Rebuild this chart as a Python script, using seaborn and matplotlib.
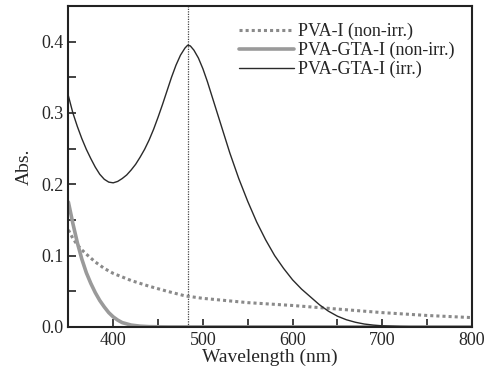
import numpy as np
import pandas as pd
import matplotlib
matplotlib.use("Agg")
import matplotlib.pyplot as plt
from matplotlib.ticker import MultipleLocator
import seaborn as sns

sns.set_style("ticks")
plt.rcParams['font.family'] = ['Liberation Serif', 'DejaVu Serif']

# PVA-I (non-irr.)
wl_pva = [350, 355, 360, 365, 370, 380, 390, 400, 420, 440, 460, 480, 500, 550, 600, 650,
          700, 750, 800]
abs_pva = [0.136, 0.124, 0.115, 0.108, 0.102, 0.091, 0.082, 0.075, 0.065, 0.057, 0.050,
           0.0435, 0.040, 0.034, 0.030, 0.025, 0.020, 0.016, 0.013]

# PVA-GTA-I (non-irr.)
wl_gta = [350, 355, 360, 365, 370, 375, 380, 385, 390, 395, 400, 405, 410, 420, 430, 440,
          460, 800]
abs_gta = [0.175, 0.145, 0.118, 0.095, 0.076, 0.061, 0.048, 0.037, 0.028, 0.020, 0.014,
           0.0095, 0.006, 0.0025, 0.001, 0.0003, 0.0, 0.0]

# PVA-GTA-I (irr.)
wl_irr = [350, 355, 360, 365, 370, 375, 380, 385, 390, 395, 400, 405, 410, 415, 420, 425,
          430, 435, 440, 445, 450, 455, 460, 465, 470, 475, 480, 483, 486, 490, 495, 500,
          505, 510, 520, 530, 540, 550, 560, 570, 580, 590, 600, 610, 620, 630, 640, 650,
          660, 670, 680, 690, 700, 720, 740, 800]
abs_irr = [0.324, 0.300, 0.281, 0.264, 0.249, 0.236, 0.224, 0.214, 0.207, 0.203, 0.202,
           0.204, 0.208, 0.213, 0.220, 0.228, 0.238, 0.249, 0.262, 0.277, 0.294, 0.312,
           0.331, 0.350, 0.367, 0.381, 0.391, 0.395, 0.394, 0.388, 0.377, 0.362, 0.344,
           0.324, 0.284, 0.244, 0.208, 0.176, 0.147, 0.122, 0.100, 0.082, 0.066, 0.053,
           0.042, 0.031, 0.022, 0.015, 0.010, 0.0065, 0.004, 0.0025, 0.0015, 0.0005, 0.0,
           0.0]

peak_nm = 483

fig = plt.figure(figsize=(4.85, 3.74), dpi=100)
ax = fig.add_axes([0.141, 0.126, 0.832, 0.858])

ax.axvline(peak_nm, color='#444444', lw=0.9, ls=(0, (1, 1)), zorder=1)
sns.lineplot(x=wl_pva, y=abs_pva, ax=ax, color='#8a8a8a', lw=2.2, ls=(0, (1, 1)),
             label='PVA-I (non-irr.)', sort=False)
sns.lineplot(x=wl_gta, y=abs_gta, ax=ax, color='#9a9a9a', lw=2.6,
             label='PVA-GTA-I (non-irr.)', sort=False)
sns.lineplot(x=wl_irr, y=abs_irr, ax=ax, color='#2a2a2a', lw=1.0,
             label='PVA-GTA-I (irr.)', sort=False)

ax.set_xlim(350, 800)
ax.set_ylim(0, 0.45)
ax.xaxis.set_major_locator(MultipleLocator(100))
ax.xaxis.set_minor_locator(MultipleLocator(50))
ax.yaxis.set_major_locator(MultipleLocator(0.1))
ax.yaxis.set_minor_locator(MultipleLocator(0.05))
ax.yaxis.set_major_formatter(plt.FuncFormatter(lambda v, p: '%.1f' % v))
ax.tick_params(which='both', direction='in', labelsize=13, width=1.2, color='#222222')
ax.tick_params(which='major', length=6)
ax.tick_params(which='minor', length=6)
for s in ax.spines.values():
    s.set_linewidth(1.5)
    s.set_color('#222222')

ax.set_xlabel('Wavelength (nm)', fontsize=14, labelpad=0)
ax.set_ylabel('Abs.', fontsize=14, labelpad=6)

leg = ax.legend(loc='upper right', frameon=False, fontsize=13, handlelength=3.0,
                handletextpad=0.25, labelspacing=0.1, borderaxespad=0.0,
                bbox_to_anchor=(0.975, 0.97))

fig.savefig('out.png', dpi=100)
